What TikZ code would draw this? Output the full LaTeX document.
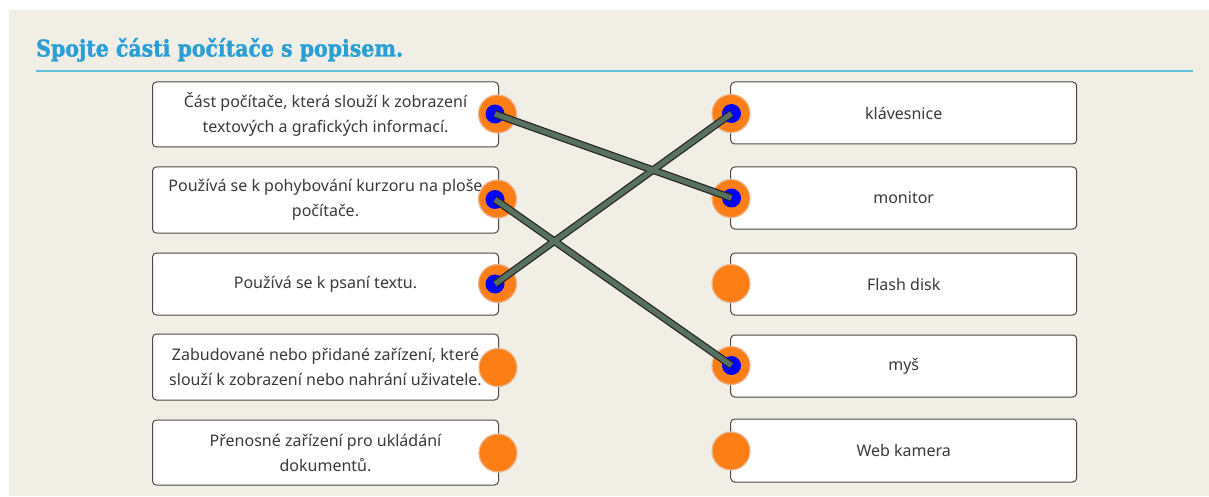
\documentclass[tikz,border=0pt]{standalone}
\usepackage{fontspec}
\setmainfont{Noto Sans}
\newfontfamily\titlefont[BoldFeatures={FakeBold=1.8}]{DejaVu Serif}
\definecolor{paper}{HTML}{F1EEE6}
\definecolor{titleblue}{HTML}{2A9FD6}
\definecolor{ruleblue}{HTML}{5BC4DC}
\definecolor{boxline}{HTML}{4A4A4A}
\definecolor{boxtext}{HTML}{3A3A3A}
\definecolor{knob}{HTML}{FD7E14}
\definecolor{knobrim}{HTML}{E9B48E}
\definecolor{wire}{HTML}{587060}
\tikzset{
  itembox/.style={draw=boxline, line width=1pt, rounded corners=4pt, fill=white,
    minimum width=346pt, inner sep=0pt, align=center, text=boxtext,
    font=\fontsize{16}{25}\selectfont},
  knobnode/.style={circle, fill=knob, draw=knobrim, line width=1.2pt, minimum size=38pt, inner sep=0pt},
  dotnode/.style={circle, fill=blue, minimum size=19pt, inner sep=0pt},
  wireback/.style={line width=7.5pt, draw=black!85},
  wirefront/.style={line width=5pt, draw=wire},
}
\begin{document}
\begin{tikzpicture}[x=1pt,y=-1pt]
\useasboundingbox (0,0) rectangle (1209,497);
\fill[white] (0,0) rectangle (1209,497);
\fill[paper] (9,10) rectangle (1209,496);
% title
\node[anchor=base west, inner sep=0pt, text=titleblue] (title) at (36,56.5)
  {\scalebox{0.89}[1]{\titlefont\bfseries\fontsize{23}{26}\selectfont Spojte části počítače s popisem.}};
\coordinate (ruleA) at (36,71);
\coordinate (ruleB) at (1193,71);
\draw[ruleblue, line width=1.3pt] (ruleA) -- (ruleB);
% left boxes
\node[itembox, minimum height=65pt] (L1) at (325.5,114.5) {Část počítače, která slouží k zobrazení\\textových a grafických informací.};
\node[itembox, minimum height=66pt] (L2) at (325.5,200) {Používá se k pohybování kurzoru na ploše\\počítače.};
\node[itembox, minimum height=62pt] (L3) at (325.5,284) {Používá se k psaní textu.};
\node[itembox, minimum height=66pt] (L4) at (325.5,367) {Zabudované nebo přidané zařízení, které\\slouží k zobrazení nebo nahrání uživatele.};
\node[itembox, minimum height=65pt] (L5) at (325.5,452.5) {Přenosné zařízení pro ukládání\\dokumentů.};
% right boxes
\node[itembox, minimum height=62pt] (R1) at (903.7,113) {klávesnice};
\node[itembox, minimum height=62pt] (R2) at (903.7,198) {monitor};
\node[itembox, minimum height=62pt] (R3) at (903.7,284) {Flash disk};
\node[itembox, minimum height=62pt] (R4) at (903.7,366) {myš};
\node[itembox, minimum height=63pt] (R5) at (903.7,450.5) {Web kamera};
% knobs
\node[knobnode] (kL1) at (497.5,114) {};
\node[knobnode] (kL2) at (497.5,199) {};
\node[knobnode] (kL3) at (497.5,283.5) {};
\node[knobnode] (kL4) at (498,367.5) {};
\node[knobnode] (kL5) at (498,453) {};
\node[knobnode] (kR1) at (731,113.5) {};
\node[knobnode] (kR2) at (731,198.5) {};
\node[knobnode] (kR3) at (731,283.5) {};
\node[knobnode] (kR4) at (731,365.5) {};
\node[knobnode] (kR5) at (731,451) {};
% blue dots
\node[dotnode] (dL1) at (495,114) {};
\node[dotnode] (dL2) at (495,199.5) {};
\node[dotnode] (dL3) at (495,284) {};
\node[dotnode] (dR1) at (731.5,113.5) {};
\node[dotnode] (dR2) at (731.5,198) {};
\node[dotnode] (dR4) at (731.5,365.5) {};
% wires
\foreach \a/\b in {dL1/dR2, dL2/dR4, dL3/dR1} {
  \draw[wireback] (\a.center) -- (\b.center);
}
\foreach \a/\b in {dL1/dR2, dL2/dR4, dL3/dR1} {
  \draw[wirefront] (\a.center) -- (\b.center);
}
\end{tikzpicture}
\end{document}
